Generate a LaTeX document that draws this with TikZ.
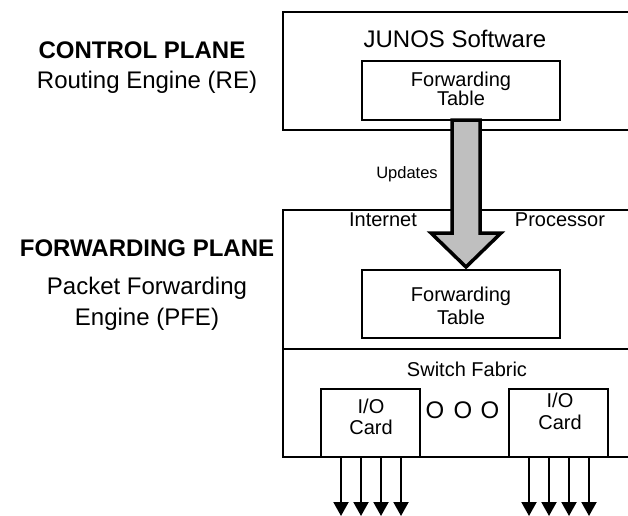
\documentclass[tikz,border=0pt]{standalone}
\usepackage{fontspec}
\setmainfont{Liberation Sans}
\usetikzlibrary{arrows.meta,calc}
\begin{document}
\begin{tikzpicture}[x=1pt,y=-1pt,
  box/.style={draw, line width=2pt, inner sep=0pt, outer sep=0pt},
  txtbig/.style={inner sep=0pt, font=\fontsize{24}{31}\selectfont, align=center},
  txtbold/.style={inner sep=0pt, font=\bfseries\fontsize{24}{31}\selectfont},
  txtmid/.style={inner sep=0pt, font=\fontsize{20}{21.5}\selectfont, align=center},
  txtsmall/.style={inner sep=0pt, font=\fontsize{16.5}{19}\selectfont},
  fatarrow/.style={draw, line width=3.5pt, fill=black!25, line join=miter},
  outarrow/.style={line width=2pt, -{Triangle[width=15pt,length=14pt]}}]
\useasboundingbox (0,0) rectangle (628,515);
\clip (0,0) rectangle (628,515);

% left labels
\node[txtbold, anchor=base] (cp) at (142,58) {CONTROL PLANE};
\node[txtbig, anchor=base] (rel) at (147,88) {Routing Engine (RE)};
\node[txtbold, anchor=base] (fp) at (147,256) {FORWARDING PLANE};
\node[txtbig, anchor=north] (pfel) at (147,276.5) {Packet Forwarding\\Engine (PFE)};

% routing engine
\node[box, minimum width=357pt, minimum height=118pt] (re) at (461.5,71) {};
\node[txtbig, anchor=base] (junos) at (455,47.5) {JUNOS Software};
\node[box, minimum width=198pt, minimum height=59pt] (tt) at (461,90.5) {};
\node[txtmid, anchor=north, font=\fontsize{20}{19.5}\selectfont] (ttt) at (461,71.5) {Forwarding\\Table};

% packet forwarding engine
\node[box, minimum width=357pt, minimum height=247pt] (pfe) at (461.5,333.5) {};
\coordinate (dl) at (283,349);
\coordinate (dr) at (640,349);
\draw[line width=2pt] (dl) -- (dr);
\node[txtmid, anchor=base] (inet) at (383,226.7) {Internet};
\node[txtmid, anchor=base] (proc) at (560,226.7) {Processor};
\node[box, minimum width=198pt, minimum height=68pt] (lt) at (461,304) {};
\node[txtmid, anchor=north, font=\fontsize{20}{23}\selectfont] (ltt) at (461,286.5) {Forwarding\\Table};
\node[txtmid, anchor=base] (sf) at (467,376) {Switch Fabric};

% I/O cards
\node[box, minimum width=99pt, minimum height=68pt] (c1) at (370.5,423) {};
\node[box, minimum width=99pt, minimum height=68pt] (c2) at (558.5,423) {};
\node[txtmid, anchor=north] (c1t) at (371,398.5) {I/O\\Card};
\node[txtmid, anchor=north, font=\fontsize{20}{22.5}\selectfont] (c2t) at (560,392.5) {I/O\\Card};
\node[txtbig, anchor=base] (o1) at (435,418) {O};
\node[txtbig, anchor=base] (o2) at (463,418) {O};
\node[txtbig, anchor=base] (o3) at (490,418) {O};

% updates arrow
\draw[fatarrow] ($(tt.south)+(-9,0)$) -- ++(0,113) -- ++(-21,0)
  -- ($(lt.north)+(5,-3)$) -- ++(35,-34) -- ++(-21,0)
  -- ($(tt.south)+(19,0)$) -- cycle;
\node[txtsmall, anchor=base] (upd) at (407,178.3) {Updates};

% output arrows
\foreach \dx [count=\i] in {-29.5,-9.5,10.5,30.5} {
  \coordinate (e1\i) at ($(c1.south)+(\dx,59)$);
  \coordinate (e2\i) at ($(c2.south)+(\dx,59)$);
  \draw[outarrow] ($(c1.south)+(\dx,0)$) -- (e1\i);
  \draw[outarrow] ($(c2.south)+(\dx,0)$) -- (e2\i);
}
\end{tikzpicture}
\end{document}
